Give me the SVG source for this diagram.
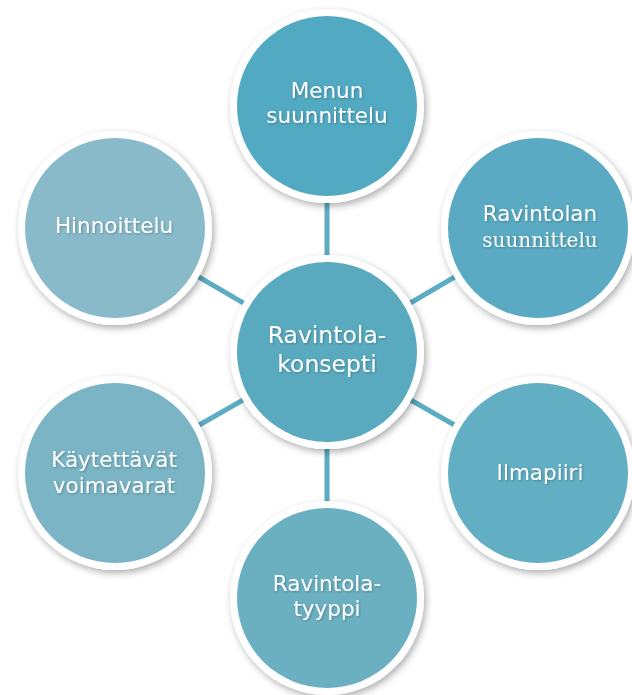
<svg xmlns="http://www.w3.org/2000/svg" width="632" height="695" viewBox="0 0 632 695">
<defs>
<filter id="sh" x="-20%" y="-20%" width="140%" height="140%">
<feDropShadow dx="2" dy="3" stdDeviation="3.5" flood-color="#000" flood-opacity="0.32"/>
</filter>
<filter id="ts" x="-10%" y="-30%" width="120%" height="160%">
<feDropShadow dx="1" dy="1" stdDeviation="1" flood-color="#000" flood-opacity="0.25"/>
</filter>
</defs>
<style>
.ring{fill:#ffffff;filter:url(#sh)}
.lbl{font-family:"DejaVu Sans","Liberation Sans",sans-serif;font-size:21.5px;fill:#ffffff;text-anchor:middle;filter:url(#ts)}
.ser{font-family:"DejaVu Serif","Liberation Serif",serif;font-size:20px}
.big{font-size:23.5px}
.conn{stroke:#5cacc4;stroke-width:5;fill:none}
</style>
<rect width="632" height="695" fill="#ffffff"/>
<g id="connectors">
<line class="conn" x1="327" y1="352" x2="327" y2="106"/>
<line class="conn" x1="327" y1="352" x2="538" y2="228"/>
<line class="conn" x1="327" y1="352" x2="538" y2="473"/>
<line class="conn" x1="327" y1="352" x2="327" y2="598"/>
<line class="conn" x1="327" y1="352" x2="115" y2="473"/>
<line class="conn" x1="327" y1="352" x2="115" y2="228"/>
</g>
<g id="menun">
<circle class="ring" cx="327" cy="106" r="97"/>
<circle cx="327" cy="106" r="90" fill="#51a9c2"/>
<text class="lbl" x="327" y="98">Menun</text>
<text class="lbl" x="327" y="123">suunnittelu</text>
</g>
<g id="ravintolan">
<circle class="ring" cx="538" cy="228" r="97"/>
<circle cx="538" cy="228" r="90" fill="#59aac2"/>
<text class="lbl" x="540" y="221">Ravintolan</text>
<text class="lbl ser" x="540" y="247">suunnittelu</text>
</g>
<g id="ilmapiiri">
<circle class="ring" cx="538" cy="473" r="97"/>
<circle cx="538" cy="473" r="90" fill="#62aec3"/>
<text class="lbl" x="540" y="480">Ilmapiiri</text>
</g>
<g id="tyyppi">
<circle class="ring" cx="327" cy="598" r="97"/>
<circle cx="327" cy="598" r="90" fill="#6bb0c1"/>
<text class="lbl" x="327" y="591">Ravintola-</text>
<text class="lbl" x="327" y="616">tyyppi</text>
</g>
<g id="voimavarat">
<circle class="ring" cx="115" cy="473" r="97"/>
<circle cx="115" cy="473" r="90" fill="#7ab4c5"/>
<text class="lbl" x="114" y="467">Käytettävät</text>
<text class="lbl" x="114" y="493">voimavarat</text>
</g>
<g id="hinnoittelu">
<circle class="ring" cx="115" cy="228" r="97"/>
<circle cx="115" cy="228" r="90" fill="#89bac9"/>
<text class="lbl" x="114" y="233">Hinnoittelu</text>
</g>
<g id="konsepti">
<circle class="ring" cx="327" cy="352" r="97"/>
<circle cx="327" cy="352" r="90" fill="#5aaabf"/>
<text class="lbl big" x="327" y="343">Ravintola-</text>
<text class="lbl big" x="327" y="372">konsepti</text>
</g>
</svg>
